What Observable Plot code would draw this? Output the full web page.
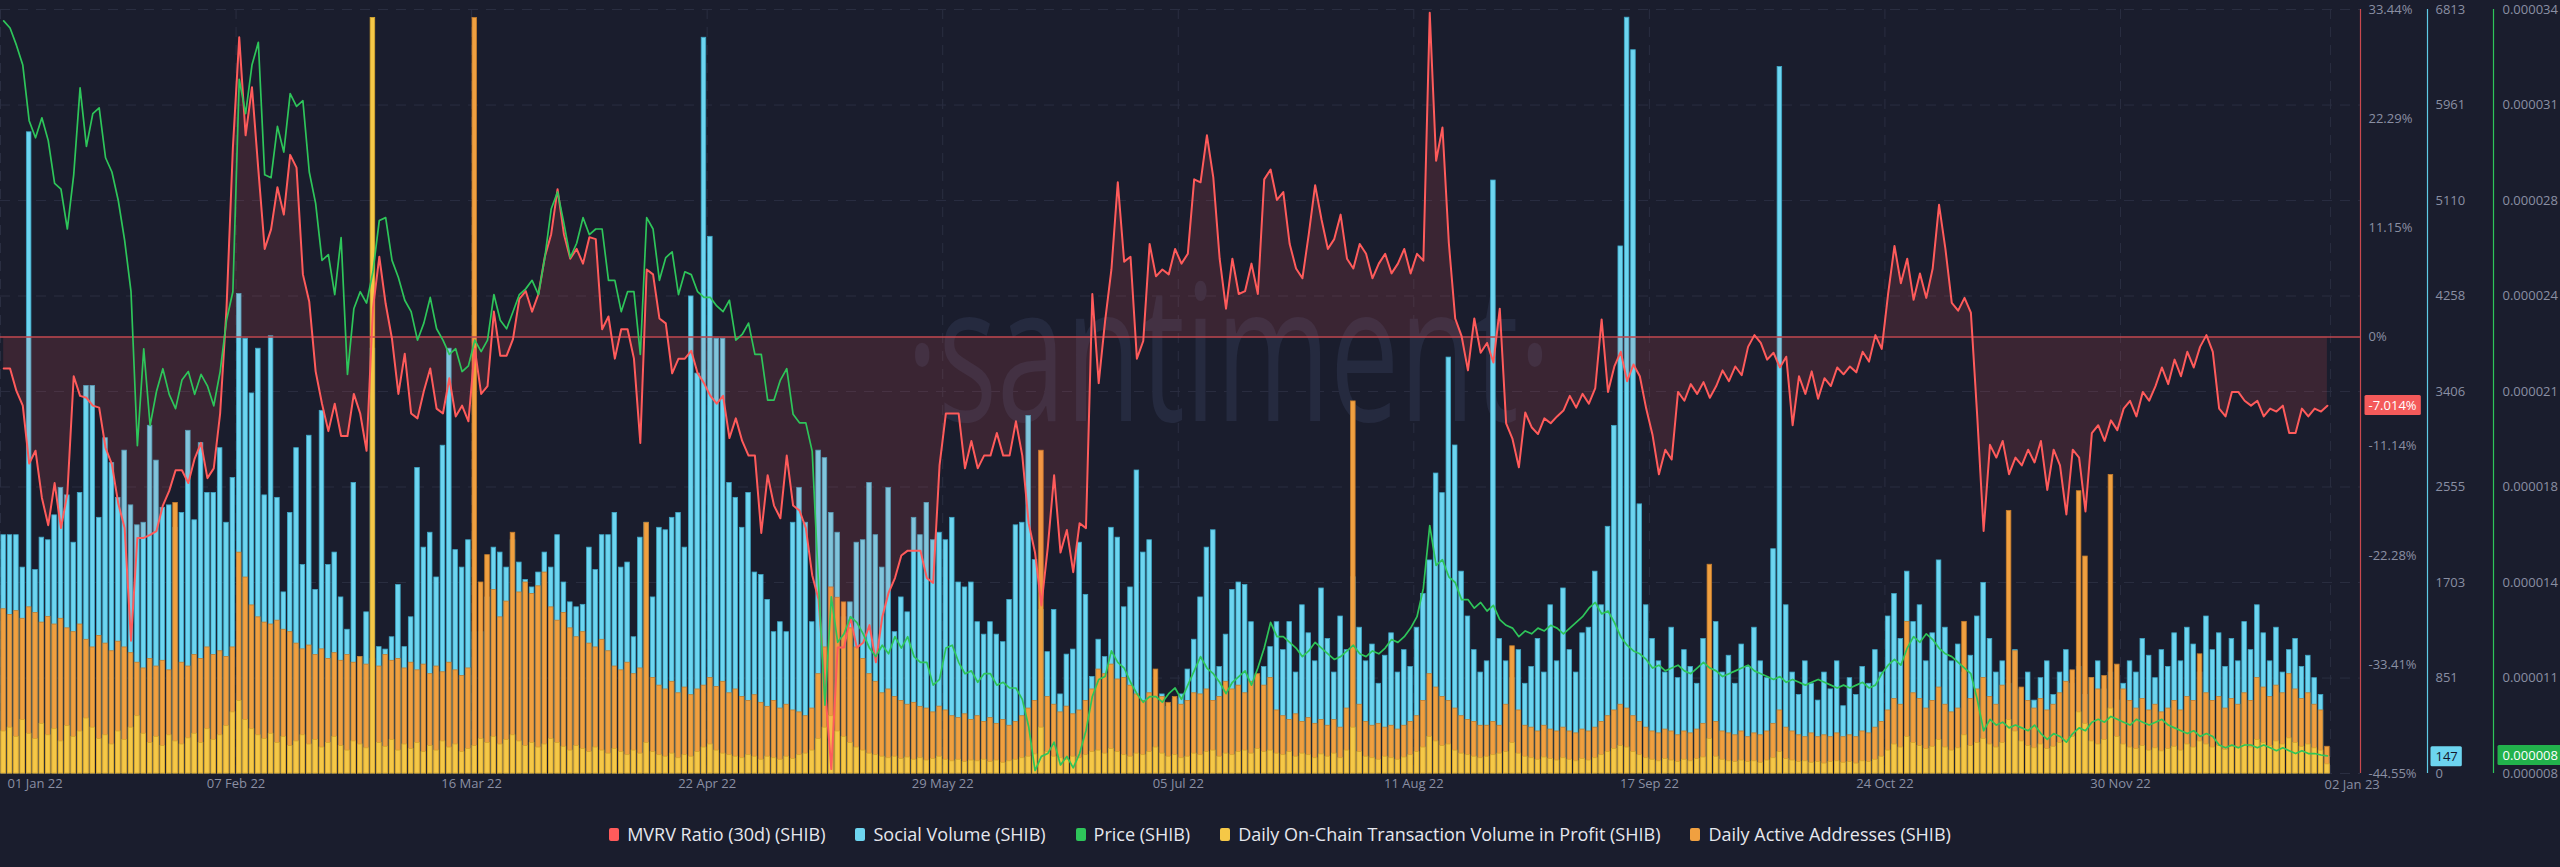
<!DOCTYPE html>
<html><head><meta charset="utf-8">
<script src="https://cdn.jsdelivr.net/npm/d3@7"></script>
<script src="https://cdn.jsdelivr.net/npm/@observablehq/plot@0.6"></script>
<style>
html,body{margin:0;padding:0;background:#1a1d2d;}
body{width:2560px;height:867px;overflow:hidden;font-family:"Open Sans",sans-serif;}
#chart{position:relative;width:2560px;height:805px;}
#chart svg{position:absolute;left:0;top:0;}
#legend{display:flex;justify-content:center;align-items:center;height:58px;color:#e6e7ee;font-size:18px;gap:30px;}
#legend .it{display:flex;align-items:center;}
#legend .sw{width:10px;height:13px;border-radius:2px;margin-right:8px;}
</style></head>
<body>
<div id="chart"></div>
<div id="legend"></div>
<script>
// ---------- labels / ticks ----------
const xTickLabels = ["01 Jan 22","07 Feb 22","16 Mar 22","22 Apr 22","29 May 22","05 Jul 22","11 Aug 22","17 Sep 22","24 Oct 22","30 Nov 22","02 Jan 23"];
const mvrvTicks = [33.44, 22.29, 11.15, 0, -11.14, -22.28, -33.41, -44.55];
const mvrvTickLabels = ["33.44%","22.29%","11.15%","0%","-11.14%","-22.28%","-33.41%","-44.55%"];
const socialTicks = [0, 851, 1703, 2555, 3406, 4258, 5110, 5961, 6813];
const socialTickLabels = ["0","851","1703","2555","3406","4258","5110","5961","6813"];
const priceTicks = [7.6, 10.95, 14.3, 17.65, 21.0, 24.35, 27.7, 31.05, 34.4]; // micro-USD
const priceTickLabels = ["0.000008","0.000011","0.000014","0.000018","0.000021","0.000024","0.000028","0.000031","0.000034"];
const seriesNames = ["MVRV Ratio (30d) (SHIB)","Social Volume (SHIB)","Price (SHIB)","Daily On-Chain Transaction Volume in Profit (SHIB)","Daily Active Addresses (SHIB)"];
const seriesColors = ["#ff5b5b","#6dd5f0","#2ec55a","#f5c847","#f0a040"];
const firstDay = "2022-01-01";

// ---------- daily series, 01 Jan 2022 .. 01 Jan 2023 ----------
const mvrv = [
-3.2,-3.2,-5.5,-7.0,-12.9,-11.6,-16.4,-19.2,-14.9,-19.5,
-16.0,-4.0,-6.0,-6.2,-7.0,-7.2,-11.3,-13.0,-17.0,-19.5,
-31.0,-20.5,-20.5,-20.2,-19.8,-17.2,-15.7,-13.6,-13.6,-14.9,
-12.4,-10.8,-14.4,-13.4,-7.8,2.9,19.3,30.6,20.6,25.5,
17.1,9.0,11.0,15.3,12.5,18.6,17.3,6.4,3.6,-3.5,
-6.8,-9.6,-6.8,-10.1,-10.1,-5.8,-7.8,-11.6,2.9,8.2,
3.4,-0.2,-5.8,-1.7,-7.8,-8.3,-5.5,-3.2,-7.3,-7.8,
-4.2,-8.1,-7.0,-8.6,-1.2,-5.8,-5.0,2.6,-1.9,-1.9,
-0.2,3.9,4.7,2.6,4.4,8.2,10.5,15.1,10.5,8.0,
9.0,7.5,10.2,10.0,0.8,2.1,-2.2,0.8,0.8,-2.2,
-10.8,6.9,6.4,1.9,1.4,-3.7,-2.2,-2.2,-1.4,-3.7,
-4.7,-6.0,-6.8,-6.0,-10.3,-8.3,-10.6,-12.1,-12.1,-20.0,
-14.1,-17.2,-18.5,-12.1,-17.2,-17.7,-19.5,-24.3,-26.8,-35.7,
-44.1,-31.7,-31.7,-28.6,-31.7,-31.2,-29.4,-33.2,-28.6,-26.1,
-24.6,-22.3,-21.8,-21.8,-21.8,-24.6,-25.1,-13.1,-7.8,-7.8,
-7.8,-13.4,-10.6,-13.4,-12.1,-12.1,-9.8,-12.1,-12.1,-8.6,
-12.1,-19.0,-22.0,-27.4,-21.5,-14.1,-22.0,-19.7,-24.0,-19.0,
-19.5,4.4,-4.7,1.6,6.9,15.8,7.7,8.2,-2.2,-0.4,
9.5,6.2,6.9,6.4,9.0,7.5,8.5,16.1,15.8,20.6,
16.3,8.0,2.9,8.0,4.4,4.7,7.5,4.4,16.1,17.1,
14.0,14.8,9.5,7.0,6.0,10.5,15.5,12.0,9.0,10.0,
12.5,8.0,7.0,9.5,8.5,6.0,7.5,8.5,6.5,7.5,
9.0,6.5,8.5,7.8,33.1,18.0,21.4,9.6,1.9,0.1,
-3.4,1.9,-1.6,-0.6,-2.6,2.9,-8.8,-10.4,-13.3,-7.7,
-9.2,-9.9,-8.3,-8.8,-8.1,-7.5,-6.0,-7.2,-5.8,-6.8,
-5.2,1.8,-5.6,-3.0,-1.5,-4.5,-2.8,-4.0,-7.3,-10.0,
-14.0,-11.5,-12.5,-5.6,-6.5,-4.8,-5.8,-4.6,-6.2,-5.0,
-3.4,-4.5,-3.0,-3.9,-1.0,0.2,-0.6,-2.3,-1.6,-3.1,
-2.0,-9.0,-4.0,-5.8,-3.5,-6.3,-4.2,-5.0,-3.1,-3.8,
-3.0,-3.6,-1.5,-2.5,0.2,-1.2,4.4,9.3,5.5,8.0,
3.8,6.5,4.0,7.0,13.5,9.0,3.5,2.7,4.0,2.5,
-8.1,-19.8,-11.0,-12.3,-10.6,-14.0,-12.3,-13.1,-11.5,-12.8,
-10.6,-15.6,-11.5,-13.1,-18.1,-11.5,-12.3,-17.8,-9.8,-9.0,
-10.6,-8.5,-9.5,-7.3,-6.5,-8.1,-5.6,-6.5,-5.0,-3.1,
-4.8,-2.3,-4.0,-1.5,-3.1,-1.0,0.2,-1.5,-7.3,-8.1,
-5.6,-5.6,-6.5,-7.0,-6.5,-8.1,-7.3,-7.6,-7.0,-9.8,
-9.8,-7.3,-8.1,-7.3,-7.6,-7.014
];

const priceMicro = [
34.0,33.75,33.15,32.45,30.5,29.9,30.6,29.8,28.3,28.1,
26.7,28.6,31.65,29.6,30.75,30.95,29.2,28.7,27.7,26.3,
24.5,19.1,22.5,19.8,21.0,21.8,20.9,20.4,21.4,21.7,
20.9,21.6,21.2,20.5,21.7,23.5,24.5,31.95,30.75,32.45,
33.25,28.6,28.5,30.3,29.4,31.45,31.0,31.2,28.7,27.6,
25.6,25.8,24.4,26.4,21.6,23.9,24.5,24.1,25.2,27.0,
27.1,25.6,25.0,24.2,23.8,22.8,23.4,24.3,23.2,22.8,
22.3,22.5,21.7,21.9,22.8,22.4,22.8,24.4,23.5,23.2,
23.8,24.4,24.6,24.9,24.4,25.7,27.4,28.0,26.9,25.7,
26.2,27.1,26.5,26.7,26.7,24.9,24.9,23.8,24.5,24.5,
22.3,27.1,26.7,24.9,25.7,25.9,24.4,25.2,25.1,24.5,
24.3,24.3,24.0,23.8,24.2,22.8,23.0,23.4,22.3,22.3,
20.7,20.7,21.4,21.8,20.2,19.9,19.9,18.9,14.2,10.0,
13.8,12.2,12.5,13.1,12.9,12.5,12.0,11.7,12.1,11.8,
12.4,12.0,12.4,11.7,11.5,11.5,10.7,10.9,12.0,12.1,
11.5,11.1,11.2,10.8,11.1,11.1,10.7,10.8,10.6,10.6,
10.2,9.25,7.7,8.2,8.3,8.7,7.9,8.2,7.8,8.3,
9.1,10.3,10.9,11.0,11.9,11.5,11.3,10.8,10.4,10.1,
10.3,10.3,10.1,10.4,10.6,10.2,10.7,11.2,11.7,11.3,
11.1,10.8,10.4,10.8,11.0,11.2,10.7,11.3,12.0,12.9,
12.4,12.4,12.2,12.0,11.7,11.9,12.2,12.0,11.8,11.6,
11.7,11.9,12.1,11.8,11.7,11.9,11.8,12.0,12.3,12.2,
12.4,12.7,13.1,14.1,16.3,14.9,15.1,14.5,14.3,13.7,
13.7,13.4,13.6,13.3,13.5,13.0,12.8,12.7,12.4,12.6,
12.5,12.7,12.6,12.8,12.7,12.5,12.7,12.9,13.1,13.4,
13.6,13.2,13.3,12.9,12.4,12.1,11.9,11.8,11.6,11.3,
11.4,11.2,11.3,11.4,11.2,11.1,11.3,11.5,11.3,11.2,
11.0,11.1,11.2,11.3,11.4,11.2,11.1,11.0,10.9,11.0,
10.8,10.9,10.8,10.7,10.8,10.9,10.8,10.7,10.6,10.7,
10.6,10.7,10.8,10.6,10.7,11.1,11.4,11.6,11.4,12.0,
12.4,12.2,12.5,12.3,12.0,11.8,11.7,11.5,11.3,11.1,
10.2,9.1,9.5,9.3,9.4,9.2,9.3,9.2,9.1,9.3,
9.0,8.8,9.0,8.9,8.7,9.0,9.2,9.1,9.4,9.5,
9.4,9.6,9.5,9.4,9.3,9.5,9.4,9.3,9.4,9.5,
9.3,9.2,9.1,9.0,9.1,8.9,9.0,8.9,8.6,8.5,
8.6,8.5,8.6,8.6,8.5,8.6,8.5,8.4,8.5,8.4,
8.3,8.4,8.3,8.3,8.25,8.22
];

const socialVolume = [
2125,2125,2125,1836,5718,1814,2103,2080,2302,2546,
2480,2058,2502,3456,3456,2280,2990,2768,2458,2879,
2391,2213,2236,3101,2790,2369,2391,2191,2324,3056,
2258,2946,2502,2502,2901,2236,2635,4276,3877,3389,
3788,2480,3899,2458,1615,2324,2901,1859,3012,1637,
3234,1859,1970,1570,1282,2591,1038,1437,3788,1127,
1105,1215,1681,1127,1393,2724,2014,2147,1748,2923,
3788,1992,1836,2080,1260,1260,1570,2014,1970,1836,
2080,1881,1726,1659,1792,1970,1836,2125,1703,1526,
1482,1504,2014,1814,2125,2125,2324,1836,1881,1215,
2103,2236,1570,2191,2169,2280,2324,2014,4254,3566,
6561,4786,3877,3877,2591,2458,2191,2502,1792,1770,
1548,1260,1349,1260,2236,2546,2236,1349,2879,2812,
2324,2147,1393,1526,2058,2080,2591,2125,1836,2546,
1260,1570,1437,2280,2125,2413,2080,2147,2080,2280,
1703,1659,1703,1349,1238,1349,1238,1171,1548,2213,
2236,3189,1903,1459,1082,1459,705,1060,1105,2058,
1593,861,1193,1038,2191,2103,1482,1659,2702,1970,
2080,683,705,594,661,705,927,1193,1570,2014,
2169,949,1238,1637,1703,1681,1349,861,949,1127,
1349,1100,1350,900,1500,1250,1000,1650,1200,900,
1400,1100,1750,1300,1000,1150,800,1050,1250,900,
1100,950,1300,1600,1900,2675,2500,3709,2925,1800,
1400,1100,900,1000,5288,1200,1000,850,1100,800,
950,1200,900,1500,1000,1650,1100,900,1250,1300,
1800,1500,2200,3100,4700,6740,6450,2400,1500,1200,
1000,900,1300,850,1100,950,800,1200,1000,1350,
900,1050,800,1150,950,1300,1000,850,2000,6300,
1500,900,700,1000,800,650,900,750,1000,600,
850,700,950,800,1100,900,1400,1600,1200,1800,
1350,1500,1000,1250,1900,1300,1000,1150,900,1050,
1400,1700,1200,900,1000,800,1100,750,900,650,
850,1000,700,900,1100,800,950,700,850,1000,
750,900,650,800,1000,900,1200,1050,850,1100,
950,1250,1000,1300,1150,900,1400,1100,1250,950,
1200,1000,1350,1100,1500,1250,1000,1300,900,1100,
1200,950,1050,850,700,147
];

const activeAddresses = [
4300,4150,4250,4050,4350,4200,3950,4100,3900,4050,
3800,3700,3900,3500,3300,3600,3400,3200,3450,3300,
3150,2900,2750,3000,2800,2950,2700,7083,2900,2800,
3100,3000,3300,3100,3200,3050,3300,5781,5130,4400,
4088,3950,3900,4000,3763,3700,3400,3250,3350,3100,
3250,3000,3150,2950,3100,2900,3050,2850,3000,2800,
3100,2950,3000,2750,2900,2700,2850,2600,2800,2650,
2900,2700,2550,2750,19778,5000,5716,4804,4088,4500,
6302,4739,5000,4700,4900,5260,4349,4000,4200,3800,
3567,3700,3400,3300,3500,3200,2800,2700,2900,2600,
2750,6562,2500,2300,2200,2400,2100,2250,2050,2200,
2300,2500,2265,2400,2100,2200,2000,1900,2050,1850,
1745,1900,1700,1800,1650,1600,1500,1700,2600,3300,
4870,4600,4479,3800,3300,3000,2600,2400,2100,2200,
2000,1900,1800,1850,1745,1700,1600,1750,1650,1500,
1450,1550,1400,1500,1350,1450,1300,1400,1250,1350,
1500,1700,1900,8450,2000,1800,1600,1750,1550,1650,
1900,2200,2721,2600,2851,2461,2500,2300,2070,1900,
2100,2721,2000,1850,2000,1800,1900,2100,2070,2200,
1900,2000,2400,2200,2300,2100,2400,2600,2300,2500,
1650,1500,1400,1550,1350,1450,1300,1400,1250,1400,
1200,1700,9740,1800,1350,1250,1300,1200,1250,1150,
1250,1350,1500,1900,2600,2250,2000,1900,1700,1500,
1400,1350,1250,1250,1350,1250,1800,3330,1650,1250,
1200,1100,1250,1150,1100,1200,1100,1050,1150,1100,
1200,1350,1500,1650,1800,1700,1500,1350,1200,1100,
1050,1150,1100,1000,1100,1050,1150,1300,5465,1350,
1100,1050,1000,1100,950,1050,1000,1100,1300,1650,
1200,1100,1000,950,1050,950,1000,950,1050,950,
1000,950,1100,1050,1200,1350,1650,1950,1800,3970,
2100,1950,1700,1900,2250,1800,1600,1700,3970,1950,
2200,2500,2000,1800,2300,6875,3200,2250,1900,1700,
1950,1650,1800,2100,2400,2700,7390,5680,2500,2200,
2550,7815,2850,2200,1900,1700,1950,1650,1800,1600,
1700,1900,1650,2000,1900,3120,2100,1900,2000,1700,
1950,1800,2100,1900,2500,2250,2000,2300,2100,2600,
2200,1950,2100,1800,1650,700
];

const txVolumeInProfit = [
55,60,48,70,52,45,65,50,58,42,
62,48,55,72,60,45,50,38,55,44,
60,75,52,40,48,36,50,42,38,46,
52,40,58,44,50,62,80,95,70,58,
50,45,52,40,48,36,42,50,38,44,
34,40,48,36,30,42,38,33,989,40,
35,44,30,38,32,40,28,36,30,42,
34,38,28,32,36,45,40,48,38,44,
50,42,36,40,34,38,45,40,35,30,
36,32,28,34,30,26,32,28,24,30,
26,40,28,24,22,26,20,24,22,28,
34,38,30,26,24,22,20,24,22,18,
22,20,18,22,19,24,26,30,45,60,
75,55,48,40,34,30,26,24,22,20,
22,19,21,18,20,17,19,22,18,16,
18,15,17,16,18,15,17,14,16,18,
20,22,25,60,28,22,20,18,22,20,
24,28,30,26,32,28,24,22,26,24,
28,34,26,22,24,20,22,26,24,28,
30,22,26,24,28,30,26,32,28,30,
26,24,28,22,26,24,20,25,22,26,
20,30,60,28,22,20,18,22,20,18,
21,24,28,34,48,42,36,38,30,26,
24,22,20,22,24,26,28,40,26,22,
20,18,21,19,17,20,18,16,19,17,
20,24,28,32,36,34,28,24,20,18,
16,19,17,15,18,16,19,21,45,22,
18,16,15,17,15,16,14,17,20,28,
19,17,15,16,14,15,13,15,16,14,
15,13,16,15,18,22,30,38,34,48,
40,36,32,35,44,34,30,33,50,36,
40,45,38,34,40,70,55,42,36,33,
38,32,35,40,44,48,80,65,42,38,
44,85,48,38,34,32,36,30,33,29,
32,35,30,38,34,42,38,34,36,31,
35,33,38,34,44,40,36,42,38,46,
40,35,38,33,30,12
];

// ---------- table ----------
const DAY = 864e5;
const t0 = Date.parse(firstDay + "T00:00:00Z");
const rows = mvrv.map((m, i) => ({
  date: new Date(t0 + i * DAY),
  next: new Date(t0 + (i + 1) * DAY),
  mid: new Date(t0 + (i + 0.5) * DAY),
  mvrv: m, social: socialVolume[i], price: priceMicro[i],
  tx: txVolumeInProfit[i], daa: activeAddresses[i]
}));
const last = rows[rows.length - 1];
const parseTick = d3.utcParse("%d %b %y");
const xTickDates = xTickLabels.map(parseTick);
const xDomain = [new Date(t0), new Date(t0 + 370.7 * DAY)];

const W = 2560, H = 805;
const gray = "#8a8fa3";
const styleObj = {background: "transparent", color: gray, fontFamily: "'Open Sans', sans-serif", fontSize: "13px", overflow: "visible"};

function layer(yDomain, marks) {
  return Plot.plot({
    width: W, height: H, marginTop: 9, marginBottom: 32, marginLeft: 0, marginRight: 200,
    x: {type: "utc", domain: xDomain, axis: null},
    y: {domain: yDomain, axis: null},
    style: styleObj,
    marks
  });
}

const grid = "#2a2e41";
const barOpts = {x1: "date", x2: "next", insetLeft: 0.9, insetRight: 0.9, strokeWidth: 0.8};

// base: grid, watermark, social bars & axis, x labels
const base = layer([0, 6813], [
  Plot.ruleY(socialTicks, {stroke: grid, strokeDasharray: "10,8"}),
  Plot.ruleX(xTickDates, {stroke: grid, strokeDasharray: "10,8"}),
  Plot.text(["·santiment·"], {frameAnchor: "middle", dx: 48, dy: -31, text: d => d, fontSize: 190, fill: "#252a3f"}),
  Plot.rectY(rows, {...barOpts, y: "social", fill: "#6dd5f0", stroke: "#3da7c6"}),
  Plot.text(xTickDates.slice(1, -1), {x: d => d, frameAnchor: "bottom", dy: 14, text: (d, i) => xTickLabels[i + 1], fill: gray}),
  Plot.text([xTickDates[0]], {x: d => d, frameAnchor: "bottom", dy: 14, dx: 7, textAnchor: "start", text: () => xTickLabels[0], fill: gray}),
  Plot.text([xTickDates[xTickDates.length - 1]], {x: d => d, frameAnchor: "bottom", dy: 15, dx: -6, textAnchor: "start", text: () => xTickLabels[xTickLabels.length - 1], fill: gray}),
  Plot.ruleX([xDomain[1]], {dx: 67, stroke: "#5fcbe6", strokeWidth: 1.2}),
  Plot.text(socialTicks, {y: d => d, frameAnchor: "right", dx: 75, textAnchor: "start", text: (d, i) => socialTickLabels[i], fill: gray}),
  Plot.text([last], {y: "social", frameAnchor: "right", dx: 75, textAnchor: "start", text: d => String(d.social), fill: "#14172a"})
]);

const orange = layer([0, 20000], [
  Plot.rectY(rows, {...barOpts, y: "daa", fill: "#f0a040", stroke: "#c47c2c"})
]);

const yellow = layer([0, 1000], [
  Plot.rectY(rows, {...barOpts, y: "tx", fill: "#f5c847", stroke: "#d6a62e"})
]);

const mv = layer([-44.55, 33.44], [
  Plot.areaY(rows, {x: "mid", y1: 0, y2: "mvrv", fill: "#ff5b5b", fillOpacity: 0.14}),
  Plot.ruleY([0], {stroke: "#c0474f", strokeWidth: 1.5}),
  Plot.lineY(rows, {x: "mid", y: "mvrv", stroke: "#ff5b5b", strokeWidth: 2}),
  Plot.ruleX([xDomain[1]], {stroke: "#c8484e", strokeWidth: 1.2}),
  Plot.text(mvrvTicks, {y: d => d, frameAnchor: "right", dx: 8, textAnchor: "start", text: (d, i) => mvrvTickLabels[i], fill: gray}),
  Plot.text([last], {y: "mvrv", frameAnchor: "right", dx: 8, textAnchor: "start", text: d => d.mvrv.toFixed(3) + "%", fill: "#ffffff"})
]);

const pr = layer([7.6, 34.4], [
  Plot.lineY(rows, {x: "mid", y: "price", stroke: "#2ec55a", strokeWidth: 1.7}),
  Plot.ruleX([xDomain[1]], {dx: 133, stroke: "#2ec55a", strokeWidth: 1.2}),
  Plot.text(priceTicks, {y: d => d, frameAnchor: "right", dx: 142, textAnchor: "start", text: (d, i) => priceTickLabels[i], fill: gray}),
  Plot.text([last], {y: "price", frameAnchor: "right", dx: 142, textAnchor: "start", text: d => (d.price * 1e-6).toFixed(6), fill: "#ffffff"})
]);

const chart = document.getElementById("chart");
[base, orange, yellow, mv, pr].forEach(s => chart.appendChild(s));

// badges behind last-value labels (the badge label is the last text with that content)
function badge(svg, str, bg, padL, padR) {
  const all = [...svg.querySelectorAll("text")].filter(e => e.textContent === str);
  const t = all[all.length - 1];
  if (!t) return;
  const b = t.getBBox();
  const r = document.createElementNS("http://www.w3.org/2000/svg", "rect");
  r.setAttribute("x", b.x - padL);
  r.setAttribute("y", b.y - 1);
  r.setAttribute("width", b.width + padL + padR);
  r.setAttribute("height", b.height + 2);
  r.setAttribute("rx", 1.5);
  r.setAttribute("fill", bg);
  const tr = t.getAttribute("transform");
  if (tr) r.setAttribute("transform", tr);
  t.parentNode.insertBefore(r, t);
}
badge(mv, last.mvrv.toFixed(3) + "%", "#f45a5a", 4, 4);
badge(base, String(last.social), "#6dd5f0", 5, 4);
badge(pr, (last.price * 1e-6).toFixed(6), "#22b24c", 5, 5);

// watermark width
const wm = [...base.querySelectorAll("text")].find(e => e.textContent === "·santiment·");
if (wm) { wm.setAttribute("textLength", 645); wm.setAttribute("lengthAdjust", "spacingAndGlyphs"); }

// legend
const legend = document.getElementById("legend");
seriesNames.forEach((n, i) => {
  const it = document.createElement("div"); it.className = "it";
  const sw = document.createElement("div"); sw.className = "sw"; sw.style.background = seriesColors[i];
  const tx = document.createElement("span"); tx.textContent = n;
  it.appendChild(sw); it.appendChild(tx); legend.appendChild(it);
});
</script>
</body></html>
